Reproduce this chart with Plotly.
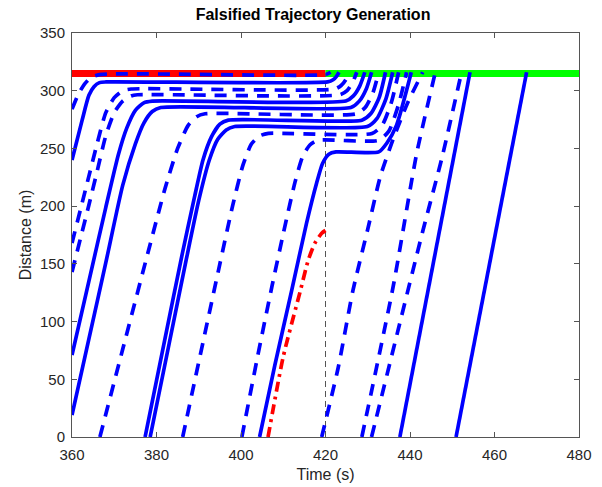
import plotly.graph_objects as go

# ---- data (time in s, distance in m) ----
stop_line_d = 315
signal_change_t = 420
red_phase_t = [360, 420]
green_phase_t = [420, 480]

# queued vehicles (solid = "S", dashed = "D")
v01_t = [360, 361.5, 363, 364.5, 366.5, 420, 421.2]
v01_d = [284, 297, 306, 311.5, 314, 314, 316]
v02_t = [360, 362.4, 364, 365.2, 366.5, 368, 420.5, 421.8, 422.6, 423.2]
v02_d = [240, 274.5, 296, 303.5, 307, 307.6, 307.6, 309.5, 312.5, 316]
v03_t = [360, 362, 364, 366, 368, 370, 372, 374, 422.2, 423.7, 424.8, 425.6]
v03_d = [168, 197, 226, 255, 281, 294, 300, 301.5, 301.5, 304.5, 309.5, 316]
v04_t = [360, 362, 364, 366, 368, 370, 372, 374, 375.5, 423.4, 425.1, 426.4, 427.4]
v04_d = [143, 172, 201, 231, 261, 281, 291, 295.5, 296.5, 296.5, 300, 307, 316]
v05_t = [360, 364, 368, 371, 373, 375, 377, 379, 424.8, 426.6, 428.1, 429.3]
v05_d = [71, 135, 199, 245, 268, 283, 289.5, 291, 291, 295.5, 304, 316]
v06_t = [360, 364, 368, 372, 375, 377, 379, 381, 426.0, 428.0, 429.7, 430.9]
v06_d = [19, 85, 151, 218, 254, 272, 282, 285.5, 285.5, 291, 302, 316]
v07_t = [366.6, 372, 378, 382, 385, 387.5, 389.5, 391.5, 427.3, 429.4, 431.2, 432.6]
v07_d = [0, 76, 160, 215, 250, 270, 277.5, 280, 280, 285.5, 298, 316]
v08_t = [377.3, 382, 386, 389, 391, 393, 395, 397, 428.6, 430.8, 432.7, 434.2]
v08_d = [0, 85, 157, 208, 240, 260, 271, 274.5, 274.5, 280.5, 294, 316]
v09_t = [378.5, 383, 387, 390, 392.5, 394.5, 396.5, 398.5, 429.9, 432.2, 434.3, 435.9]
v09_d = [0, 81, 153, 205, 240, 258, 266, 269, 269, 276, 293, 316]
v10_t = [386.2, 391, 395, 398, 400.5, 402.5, 404.5, 406.5, 431.0, 433.4, 435.6, 437.3]
v10_d = [0, 82, 150, 200, 236, 254, 261, 263, 263, 270, 290, 316]
v11_t = [400.2, 404, 407.3, 410, 412.8, 414.6, 416.3, 418.2, 432.5, 435.0, 437.3, 439.2]
v11_d = [0, 71, 130, 176, 221, 243, 253, 257, 257, 265, 288, 316]
v12_t = [404.4, 408, 412, 415.5, 417.9, 419.3, 420.8, 422.5, 432.6, 434.5, 436.8, 440.3]
v12_d = [0, 62, 127, 185, 220, 237, 245, 247, 247, 254.5, 270, 316]
# vehicles passing during green
v13_t = [419.1, 423, 426.5, 430, 433, 436, 439.5, 443]
v13_d = [0, 60, 127, 180, 226, 258, 290, 316]
v14_t = [428.6, 436, 441.6, 446]
v14_d = [0, 130, 246, 316]
v15_t = [430.9, 437, 443, 447.5, 452.2]
v15_d = [0, 90, 178, 241, 316]
v16_t = [437.6, 454.2]
v16_d = [0, 316]
v17_t = [450.9, 467.6]
v17_d = [0, 316]
# falsified trajectory
fake_t = [406.4, 410, 414, 415.9, 417.5, 419.1, 420]
fake_d = [0, 69.6, 126, 153, 168, 176.5, 179]

lane_style = ["D", "S", "D", "D", "S", "S", "D", "S", "S", "D", "D", "S",
              "D", "D", "D", "S", "S"]

x_ticks = [360, 380, 400, 420, 440, 460, 480]
y_ticks = [0, 50, 100, 150, 200, 250, 300, 350]

# ---- figure ----
vehicles = [(v01_t, v01_d), (v02_t, v02_d), (v03_t, v03_d), (v04_t, v04_d),
            (v05_t, v05_d), (v06_t, v06_d), (v07_t, v07_d), (v08_t, v08_d),
            (v09_t, v09_d), (v10_t, v10_d), (v11_t, v11_d), (v12_t, v12_d),
            (v13_t, v13_d), (v14_t, v14_d), (v15_t, v15_d), (v16_t, v16_d),
            (v17_t, v17_d)]

fig = go.Figure()

fig.add_trace(go.Scatter(x=red_phase_t, y=[stop_line_d] * 2, mode="lines",
                         line=dict(color="#ff0000", width=7), hoverinfo="skip"))
fig.add_trace(go.Scatter(x=green_phase_t, y=[stop_line_d] * 2, mode="lines",
                         line=dict(color="#00ff00", width=7), hoverinfo="skip"))
fig.add_trace(go.Scatter(x=[signal_change_t, signal_change_t], y=[0, stop_line_d],
                         mode="lines",
                         line=dict(color="#555555", width=1, dash="6px,4px"),
                         hoverinfo="skip"))

for (t, d), st in zip(vehicles, lane_style):
    fig.add_trace(go.Scatter(
        x=t, y=d, mode="lines",
        line=dict(color="#0000ff", width=3.7, shape="spline", smoothing=0.6,
                  dash="solid" if st == "S" else "12px,9px"),
        hoverinfo="skip"))

fig.add_trace(go.Scatter(x=fake_t, y=fake_d, mode="lines",
                         line=dict(color="#ff0000", width=3.7, shape="spline",
                                   smoothing=0.6, dash="10px,5px,3px,5px"),
                         hoverinfo="skip"))

axis_common = dict(showgrid=False, zeroline=False, showline=True, linecolor="#555555",
                   linewidth=1, mirror="ticks", ticks="inside", ticklen=5,
                   tickcolor="#555555", automargin=False,
                   tickfont=dict(size=15, color="#262626"))

fig.update_layout(
    width=602, height=487,
    margin=dict(l=72, r=23, t=33, b=50, autoexpand=False),
    paper_bgcolor="white", plot_bgcolor="white",
    showlegend=False,
    hovermode=False,
    font=dict(family="Liberation Sans, Arial, sans-serif", color="#262626"),
    title=dict(text="<b>Falsified Trajectory Generation</b>", x=0.52, xanchor="center",
               y=0.971, yanchor="middle", font=dict(size=16, color="#000000")),
    xaxis=dict(range=[360, 480], tickvals=x_ticks, ticklabelstandoff=4,
               title=dict(text="Time (s)", font=dict(size=16), standoff=6),
               **axis_common),
    yaxis=dict(range=[0, 350], tickvals=y_ticks, ticklabelstandoff=3,
               title=dict(text="Distance (m)", font=dict(size=16), standoff=4),
               **axis_common),
)

# remove the default page margin so the 602x487 figure fills the window exactly
fig.write_html("out.html",
               config={"displayModeBar": False, "staticPlot": True},
               post_script="document.body.style.margin='0';document.body.style.overflow='hidden';")
